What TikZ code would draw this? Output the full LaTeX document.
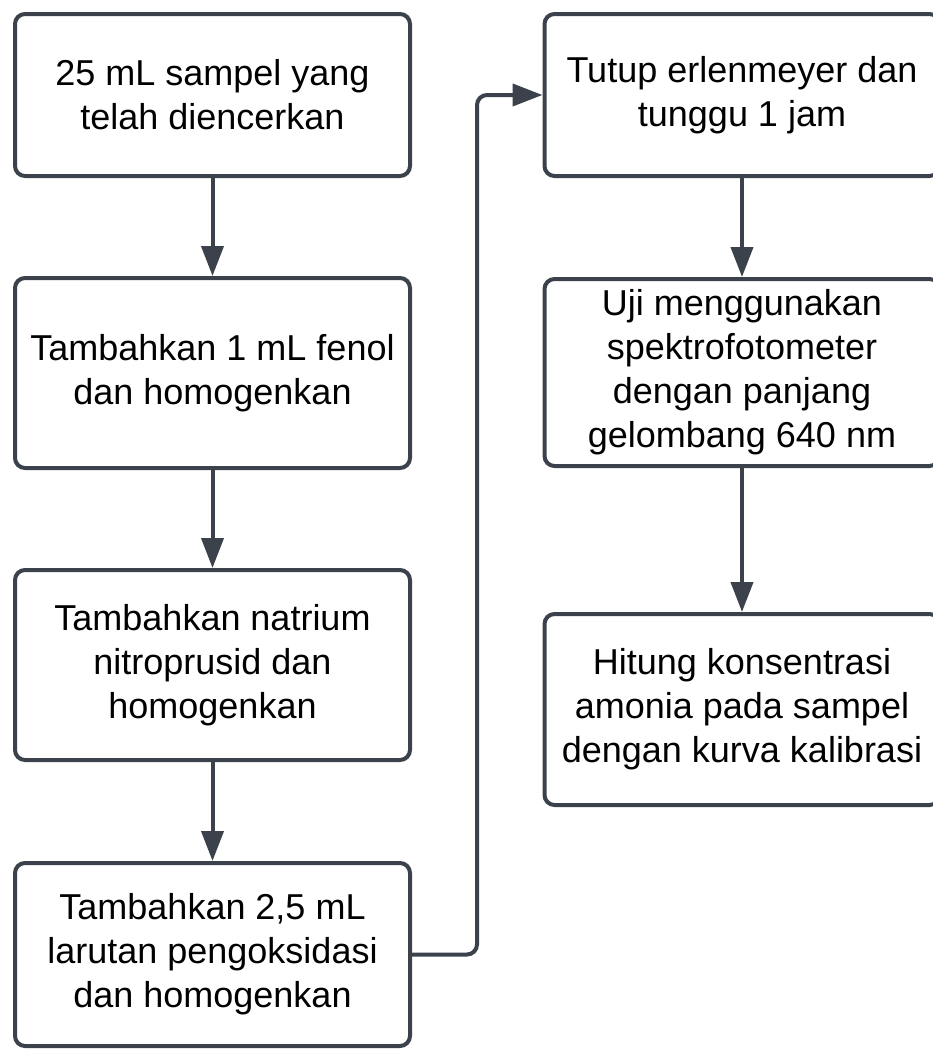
\documentclass[tikz,border=0pt]{standalone}
\usepackage{fontspec}
\setmainfont{Liberation Sans}
\usepackage{tikz}
\usetikzlibrary{arrows.meta}

\definecolor{trait}{HTML}{3C424B}

\tikzset{
  etape/.style={draw=trait, line width=4pt, rounded corners=10pt,
    align=center, inner sep=0pt, minimum width=395pt,
    font=\fontsize{36}{44}\selectfont},
  fleche/.style={draw=trait, line width=4pt,
    -{Triangle[length=30pt,width=22pt]}}
}

\begin{document}
\begin{tikzpicture}[x=1pt,y=-1pt]
      % Cadre de l'image
      \useasboundingbox (0,0) rectangle (933,1050);
      \clip (0,0) rectangle (933,1050);

      % Colonne de gauche
      \node[etape,minimum height=162pt] (Ech) at (212.5,95)
        {25 mL sampel yang\\telah diencerkan};
      \node[etape,minimum height=190pt] (Fen) at (212.5,373)
        {Tambahkan 1 mL fenol\\dan homogenkan};
      \node[etape,minimum height=190pt] (Nit) at (212.5,665)
        {Tambahkan natrium\\nitroprusid dan\\homogenkan};
      \node[etape,minimum height=183pt] (Oxy) at (212.5,954.5)
        {Tambahkan 2,5 mL\\larutan pengoksidasi\\dan homogenkan};

      % Colonne de droite
      \node[etape,minimum height=162pt] (Tut) at (742,95)
        {Tutup erlenmeyer dan\\tunggu 1 jam};
      \node[etape,minimum height=187pt] (Uji) at (742,372.5)
        {Uji menggunakan\\spektrofotometer\\dengan panjang\\gelombang 640 nm};
      \node[etape,minimum height=191pt] (Hit) at (742,709.5)
        {Hitung konsentrasi\\amonia pada sampel\\dengan kurva kalibrasi};

      % Flèches
      \draw[fleche] (Ech.south) -- (Fen.north);
      \draw[fleche] (Fen.south) -- (Nit.north);
      \draw[fleche] (Nit.south) -- (Oxy.north);
      \draw[fleche] (Tut.south) -- (Uji.north);
      \draw[fleche] (Uji.south) -- (Hit.north);

      % Passage d'une colonne à l'autre
      \coordinate (Pli) at (477,0);
      \draw[fleche,rounded corners=10pt] (Oxy.east) -- (Oxy.east -| Pli)
        |- (Tut.west);
    \end{tikzpicture}
\end{document}
